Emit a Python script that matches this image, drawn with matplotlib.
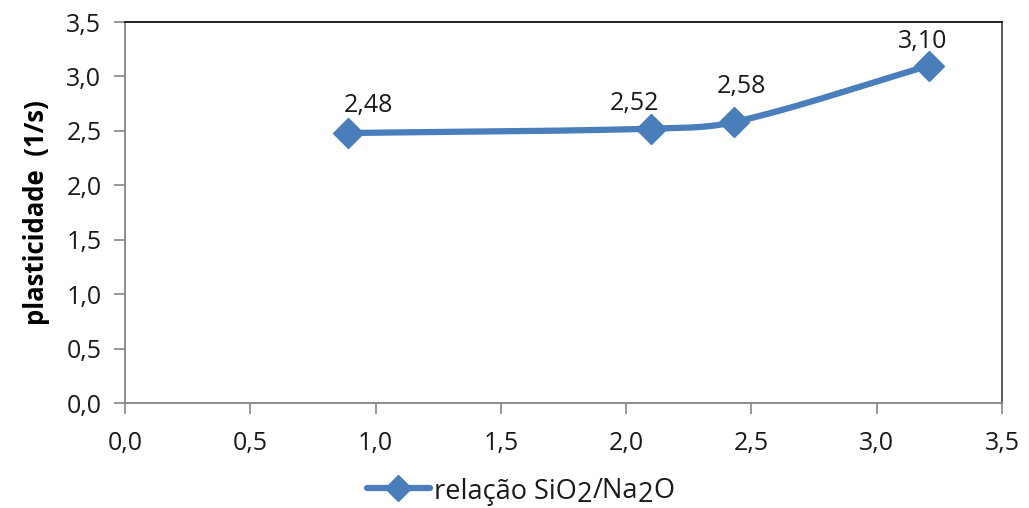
import numpy as np
import matplotlib
matplotlib.use("Agg")
import matplotlib.pyplot as plt
from matplotlib.lines import Line2D

plt.rcParams['font.family'] = ['Open Sans', 'DejaVu Sans']

# Data
ratio = [0.89, 2.10, 2.43, 3.21]          # SiO2/Na2O ratio
plasticity = [2.48, 2.52, 2.58, 3.10]     # plasticity (1/s)
value_labels = ["2,48", "2,52", "2,58", "3,10"]
ticks = [0.0, 0.5, 1.0, 1.5, 2.0, 2.5, 3.0, 3.5]
tick_labels = ["0,0", "0,5", "1,0", "1,5", "2,0", "2,5", "3,0", "3,5"]
# label offsets in pixels relative to each point
label_offsets = [(20, 28), (-17, 25), (8, 36), (-7, 24)]
legend_parts = [("relação SiO", 0), ("2", -4), ("/Na", 0), ("2", -4), ("O", 0)]

series_color = "#4A7EBB"
FS = 18

W, H = 1029, 508
fig = plt.figure(figsize=(W / 100, H / 100), dpi=100)
ax = fig.add_axes([125 / W, 105 / H, 877 / W, 381 / H])
ax.set_xlim(0, 3.5)
ax.set_ylim(0, 3.5)


def smooth_curve(xs, ys, n=60):
    """Bezier smoothing in display space; tangents follow the neighbour chord,
    scaled by each segment's own length so the curve does not overshoot."""
    P = ax.transData.transform(np.column_stack([xs, ys]))
    P_ext = np.vstack([P[0], P, P[-1]])
    out = []
    for i in range(len(P) - 1):
        p0, p1, p2, p3 = P_ext[i], P_ext[i + 1], P_ext[i + 2], P_ext[i + 3]
        L = np.linalg.norm(p2 - p1)
        d1 = p2 - p0
        d2 = p3 - p1
        c1 = p1 + d1 / np.linalg.norm(d1) * L / 3.0
        c2 = p2 - d2 / np.linalg.norm(d2) * L / 3.0
        t = np.linspace(0, 1, n)[:, None]
        seg = ((1 - t) ** 3) * p1 + 3 * ((1 - t) ** 2) * t * c1 \
            + 3 * (1 - t) * t ** 2 * c2 + t ** 3 * p2
        out.append(seg if i == 0 else seg[1:])
    pts = ax.transData.inverted().transform(np.vstack(out))
    return pts[:, 0], pts[:, 1]


sx, sy = smooth_curve(ratio, plasticity)
ax.plot(sx, sy, color=series_color, lw=4.5, solid_capstyle='round', zorder=2)
ax.plot(ratio, plasticity, linestyle='none', marker='D', markersize=15,
        color=series_color, markeredgecolor=series_color, zorder=3)

for x, y, lab, (dx, dy) in zip(ratio, plasticity, value_labels, label_offsets):
    ax.annotate(lab, (x, y), xytext=(dx, dy), textcoords='offset pixels',
                ha='center', va='center', fontsize=FS, color='#1a1a1a')

ax.set_xticks(ticks)
ax.set_xticklabels(tick_labels)
ax.set_yticks(ticks)
ax.set_yticklabels(tick_labels)
ax.tick_params(axis='both', direction='out', length=8, width=1.2, color='#868686',
               labelsize=FS, labelcolor='#1a1a1a')
ax.tick_params(axis='x', pad=12)
ax.tick_params(axis='y', pad=9)

for side in ('left', 'bottom'):
    ax.spines[side].set_color('#868686')
    ax.spines[side].set_linewidth(1.3)
ax.spines['top'].set_color('#111111')
ax.spines['top'].set_linewidth(1.3)
ax.spines['right'].set_color('#4d4d4d')
ax.spines['right'].set_linewidth(1.3)

ax.set_ylabel("plasticidade  (1/s)", fontsize=18.5, fontweight='bold', labelpad=12)

# Legend drawn by hand so the subscripts keep full size
ly = 488
fig.add_artist(Line2D([367 / W, 430 / W], [1 - ly / H, 1 - ly / H],
                      transform=fig.transFigure, color=series_color, lw=4.5,
                      solid_capstyle='round'))
fig.add_artist(Line2D([398 / W], [1 - ly / H], transform=fig.transFigure,
                      marker='D', markersize=13, color=series_color, linestyle='none'))
fig.canvas.draw()
renderer = fig.canvas.get_renderer()
xpix = 434
for txt, dy in legend_parts:
    t = fig.text(xpix / W, 1 - (ly - dy) / H, txt, fontsize=19.5, color='#1a1a1a',
                 ha='left', va='center_baseline')
    xpix = t.get_window_extent(renderer).x1

fig.savefig("out.png", dpi=100, facecolor='white')
